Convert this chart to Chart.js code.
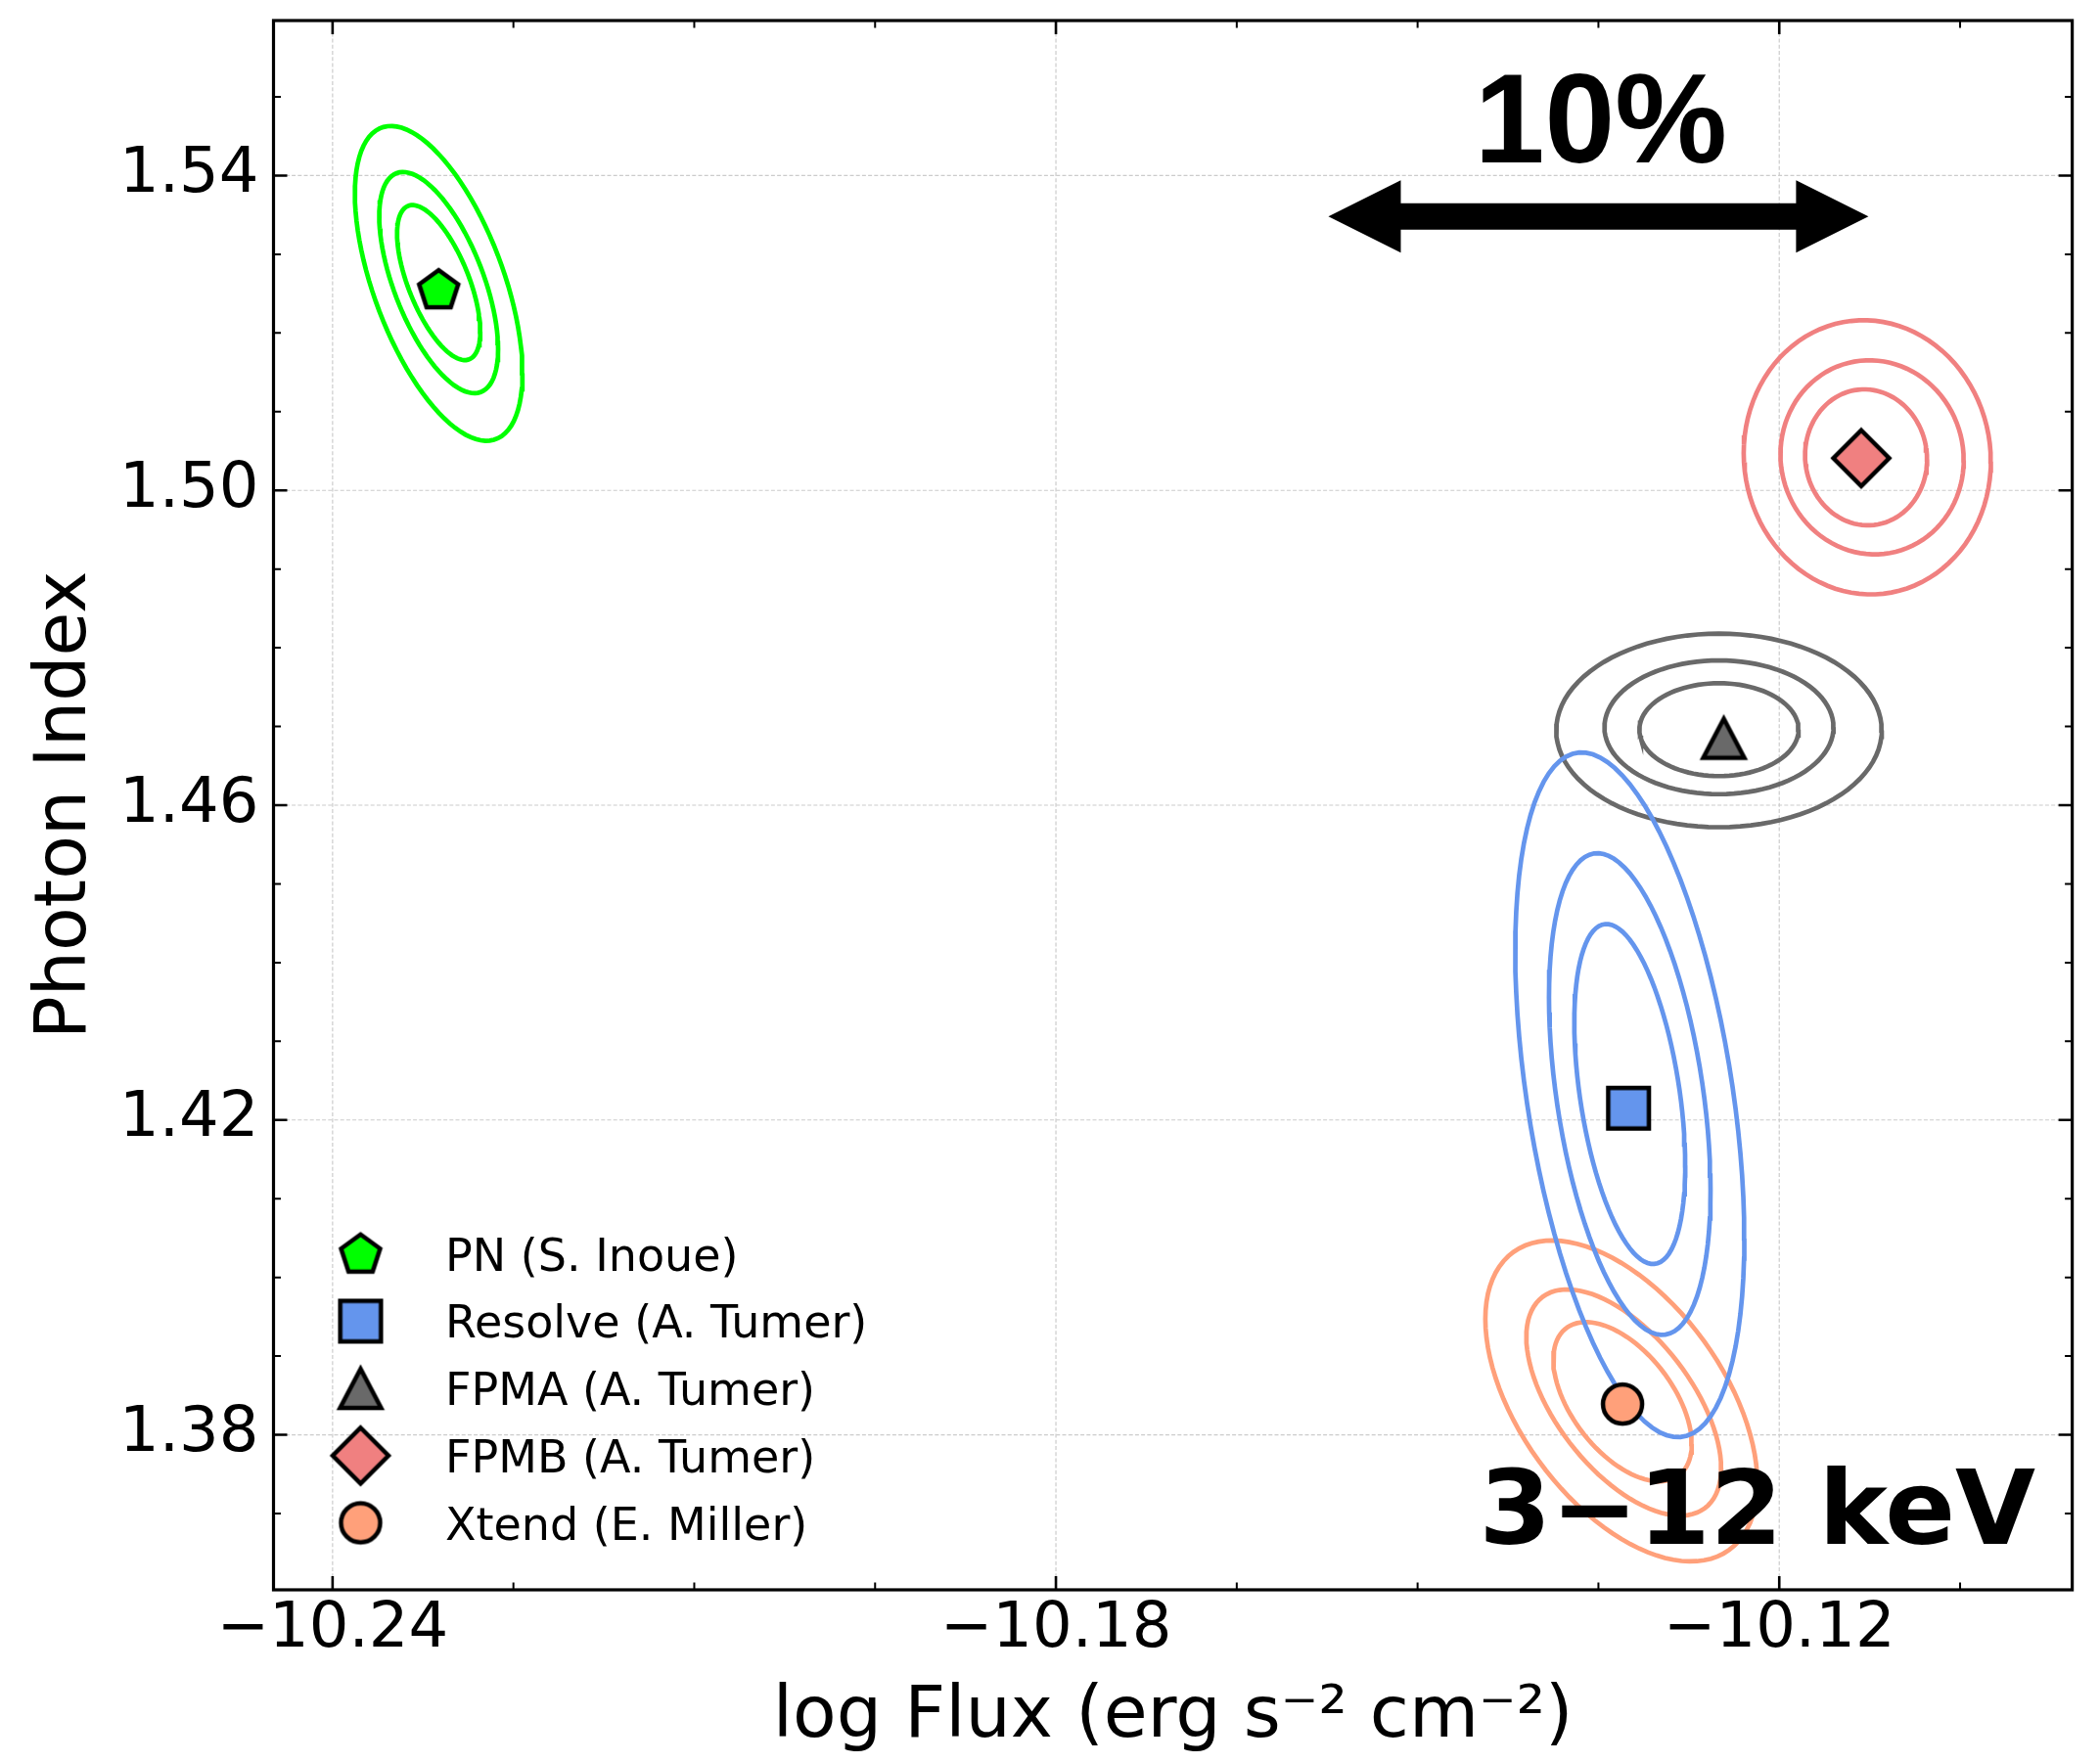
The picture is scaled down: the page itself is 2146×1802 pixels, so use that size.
<!DOCTYPE html>
<html>
<head>
<meta charset="utf-8">
<script src="https://cdn.jsdelivr.net/npm/chart.js@4.4.0/dist/chart.umd.min.js"></script>
<style>
    html, body { margin: 0; padding: 0; background: #fff; }
    canvas { display: block; }
</style>
</head>
<body>
<canvas id="fluxChart" width="2146" height="1802" style="width:2146px;height:1802px"></canvas>
<script>
// ------------ DATA -----------------------------------
const sourceNames = ["PN (S. Inoue)", "Resolve (A. Tumer)", "FPMA (A. Tumer)", "FPMB (A. Tumer)", "Xtend (E. Miller)"];
const sourceColors = ["#00ff00", "#6495ed", "#696969", "#f08080", "#ffa07a"];
const sourceShapes = ["pentagon", "square", "triangle", "diamond", "circle"];

// best-fit log flux and photon index
const bestFlux = [-10.2312, -10.1325, -10.1246, -10.1132, -10.1330];
const bestIndex = [1.5255, 1.4215, 1.4685, 1.5041, 1.3839];

// confidence contours, inner -> outer
// [centre flux, centre index, half-width in flux, half-height in index, correlation]
const pnContours = [
    [-10.2312, 1.5264, 0.00345, 0.00985, -0.63],
    [-10.2312, 1.5264, 0.00493, 0.01405, -0.60],
    [-10.2312, 1.5263, 0.00695, 0.02000, -0.57]
];
const resolveContours = [
    [-10.1324, 1.4233, 0.00460, 0.02160, -0.42],
    [-10.1324, 1.4233, 0.00670, 0.03060, -0.40],
    [-10.1324, 1.4232, 0.00950, 0.04350, -0.42]
];
const fpmaContours = [
    [-10.1250, 1.4696, 0.00660, 0.00590, 0.0],
    [-10.1250, 1.4699, 0.00950, 0.00850, 0.0],
    [-10.1250, 1.4695, 0.01350, 0.01230, 0.0]
];
const fpmbContours = [
    [-10.1128, 1.5042, 0.00506, 0.00864, -0.03],
    [-10.1123, 1.5042, 0.00760, 0.01233, -0.03],
    [-10.1127, 1.5042, 0.01025, 0.01742, -0.03]
];
const xtendContours = [
    [-10.1330, 1.3842, 0.00574, 0.01012, -0.53],
    [-10.1329, 1.3841, 0.00808, 0.01437, -0.58],
    [-10.1331, 1.3843, 0.01128, 0.02039, -0.51]
];
const allContours = [pnContours, resolveContours, fpmaContours, fpmbContours, xtendContours];

// axes
const xMin = -10.2449, xMax = -10.0957;
const yMin = 1.3603, yMax = 1.5597;
const xTickValues = [-10.24, -10.18, -10.12];
const xTickLabels = ["\u221210.24", "\u221210.18", "\u221210.12"];
const xMinorTicks = [-10.225, -10.21, -10.195, -10.165, -10.15, -10.135, -10.105];
const yTickValues = [1.38, 1.42, 1.46, 1.50, 1.54];
const yTickLabels = ["1.38", "1.42", "1.46", "1.50", "1.54"];
const yMinorTicks = [1.37, 1.39, 1.40, 1.41, 1.43, 1.44, 1.45, 1.47, 1.48, 1.49, 1.51, 1.52, 1.53, 1.55];

// "10%" double arrow (tip to tip) and its label
const arrowFlux = [-10.1574, -10.1126];
const arrowIndex = 1.5348;
const percentLabelFlux = -10.1348;
const percentLabelIndex = 1.5417;

const FONT = "'DejaVu Sans', sans-serif";

// ------------ HELPERS -------------
function contourPoints(c) {
    const pts = [];
    const n = 96;
    const s = Math.sqrt(1 - c[4] * c[4]);
    for (let k = 0; k <= n; k++) {
        const t = (k / n) * 2 * Math.PI;
        pts.push({
            x: c[0] + c[2] * Math.cos(t),
            y: c[1] + c[3] * (c[4] * Math.cos(t) + s * Math.sin(t))
        });
    }
    return pts;
}

// matplotlib-like markers drawn once on small canvases
function makeMarker(shape, fill) {
    const size = 76;
    const c = document.createElement("canvas");
    c.width = size;
    c.height = size;
    const g = c.getContext("2d");
    const m = size / 2;
    g.beginPath();
    if (shape === "pentagon") {
        const r = 21;
        for (let i = 0; i < 5; i++) {
            const a = -Math.PI / 2 + i * 2 * Math.PI / 5;
            g.lineTo(m + r * Math.cos(a), m + 1 + r * Math.sin(a));
        }
    } else if (shape === "square") {
        g.rect(m - 20.8, m - 20.8, 41.6, 41.6);
    } else if (shape === "triangle") {
        g.moveTo(m, m - 20);
        g.lineTo(m + 21, m + 20);
        g.lineTo(m - 21, m + 20);
    } else if (shape === "diamond") {
        const r = 28.5;
        g.moveTo(m, m - r);
        g.lineTo(m + r, m);
        g.lineTo(m, m + r);
        g.lineTo(m - r, m);
    } else {
        g.arc(m, m, 20, 0, 2 * Math.PI);
    }
    g.closePath();
    g.fillStyle = fill;
    g.fill();
    g.lineWidth = 4.5;
    g.lineJoin = "miter";
    g.strokeStyle = "#000";
    g.stroke();
    return c;
}

const markers = sourceShapes.map((s, i) => makeMarker(s, sourceColors[i]));

// ------------ DATASETS -------------
const datasets = [];
sourceNames.forEach((name, i) => {
    datasets.push({
        label: name,
        data: [{ x: bestFlux[i], y: bestIndex[i] }],
        pointStyle: markers[i],
        pointRadius: 20,
        showLine: false,
        order: 0
    });
});
allContours.forEach((levels, i) => {
    levels.forEach(c => {
        datasets.push({
            label: sourceNames[i] + " contour",
            data: contourPoints(c),
            showLine: true,
            borderColor: sourceColors[i],
            borderWidth: 4.7,
            pointRadius: 0,
            tension: 0,
            fill: false,
            order: 1
        });
    });
});

// ------------ FRAME, TICKS, GRID, LEGEND, ANNOTATIONS -------------
const decorPlugin = {
    id: "decor",
    beforeDatasetsDraw(chart) {
        const { ctx, chartArea: a, scales } = chart;
        ctx.save();
        ctx.strokeStyle = "#cccccc";
        ctx.lineWidth = 1.2;
        ctx.setLineDash([4, 2.2]);
        xTickValues.forEach(v => {
            const px = scales.x.getPixelForValue(v);
            ctx.beginPath();
            ctx.moveTo(px, a.top);
            ctx.lineTo(px, a.bottom);
            ctx.stroke();
        });
        yTickValues.forEach(v => {
            const py = scales.y.getPixelForValue(v);
            ctx.beginPath();
            ctx.moveTo(a.left, py);
            ctx.lineTo(a.right, py);
            ctx.stroke();
        });
        ctx.restore();
    },
    afterDatasetsDraw(chart) {
        const { ctx, chartArea: a, scales } = chart;
        ctx.save();

        // double arrow
        const xl = scales.x.getPixelForValue(arrowFlux[0]);
        const xr = scales.x.getPixelForValue(arrowFlux[1]);
        const ya = scales.y.getPixelForValue(arrowIndex);
        const headLen = 74, headHalf = 37, shaftHalf = 13.5;
        ctx.fillStyle = "#000";
        ctx.beginPath();
        ctx.moveTo(xl, ya);
        ctx.lineTo(xl + headLen, ya - headHalf);
        ctx.lineTo(xl + headLen, ya - shaftHalf);
        ctx.lineTo(xr - headLen, ya - shaftHalf);
        ctx.lineTo(xr - headLen, ya - headHalf);
        ctx.lineTo(xr, ya);
        ctx.lineTo(xr - headLen, ya + headHalf);
        ctx.lineTo(xr - headLen, ya + shaftHalf);
        ctx.lineTo(xl + headLen, ya + shaftHalf);
        ctx.lineTo(xl + headLen, ya + headHalf);
        ctx.closePath();
        ctx.fill();

        ctx.font = "bold 129px 'Liberation Sans', Arial, sans-serif";
        ctx.textAlign = "center";
        ctx.textBaseline = "alphabetic";
        ctx.fillText("10%", scales.x.getPixelForValue(percentLabelFlux), scales.y.getPixelForValue(percentLabelIndex));

        // energy band label
        ctx.font = "bold 106px " + FONT;
        ctx.textAlign = "right";
        ctx.fillText("3\u221212 keV", a.left + 0.9796 * (a.right - a.left), a.top + 0.9704 * (a.bottom - a.top));

        // legend
        const lx = a.left + 89;
        const ly0 = a.bottom - 343.3;
        const rowGap = 68.7;
        ctx.font = "46px " + FONT;
        ctx.textAlign = "left";
        sourceNames.forEach((name, i) => {
            const yy = ly0 + i * rowGap;
            const mk = markers[i];
            ctx.drawImage(mk, lx - mk.width / 2, yy - mk.height / 2);
            ctx.fillText(name, a.left + 175.5, yy + 17);
        });
        ctx.restore();
    },
    afterDraw(chart) {
        const { ctx, chartArea: a, scales } = chart;
        ctx.save();
        ctx.strokeStyle = "#000";
        // ticks pointing inwards on all four sides
        const tick = (vals, len, w) => {
            ctx.lineWidth = w;
            vals.x.forEach(v => {
                const px = scales.x.getPixelForValue(v);
                ctx.beginPath();
                ctx.moveTo(px, a.bottom); ctx.lineTo(px, a.bottom - len);
                ctx.moveTo(px, a.top); ctx.lineTo(px, a.top + len);
                ctx.stroke();
            });
            vals.y.forEach(v => {
                const py = scales.y.getPixelForValue(v);
                ctx.beginPath();
                ctx.moveTo(a.left, py); ctx.lineTo(a.left + len, py);
                ctx.moveTo(a.right, py); ctx.lineTo(a.right - len, py);
                ctx.stroke();
            });
        };
        tick({ x: xTickValues, y: yTickValues }, 14, 2.6);
        tick({ x: xMinorTicks, y: yMinorTicks }, 7.5, 2);
        ctx.lineWidth = 3.2;
        ctx.strokeRect(a.left, a.top, a.right - a.left, a.bottom - a.top);
        ctx.restore();
    }
};

// ------------ CHART -------------
const ctx = document.getElementById("fluxChart");
const fluxChart = new Chart(ctx, {
    type: "scatter",
    data: { datasets: datasets },
    options: {
        responsive: false,
        animation: false,
        devicePixelRatio: 1,
        layout: { padding: { left: 0, top: 13, right: 28.4, bottom: 0 } },
        plugins: {
            legend: { display: false },
            tooltip: { enabled: false }
        },
        scales: {
            x: {
                type: "linear",
                min: xMin,
                max: xMax,
                afterFit(scale) {
                    scale.height = 177;
                    scale.paddingLeft = 0;
                    scale.paddingRight = 0;
                },
                afterBuildTicks(scale) { scale.ticks = xTickValues.map(v => ({ value: v })); },
                ticks: {
                    callback: (v, i) => xTickLabels[i],
                    font: { family: FONT, size: 64 },
                    color: "#000",
                    padding: 2.5,
                    maxRotation: 0,
                    autoSkip: false
                },
                grid: { display: false, drawTicks: false },
                border: { display: false },
                title: {
                    display: true,
                    text: "log Flux (erg s\u207B\u00B2 cm\u207B\u00B2)",
                    font: { family: FONT, size: 73 },
                    color: "#000",
                    padding: { top: 0, bottom: 2 }
                }
            },
            y: {
                type: "linear",
                min: yMin,
                max: yMax,
                afterFit(scale) {
                    scale.width = 279.5;
                    scale.paddingTop = 0;
                    scale.paddingBottom = 0;
                },
                afterBuildTicks(scale) { scale.ticks = yTickValues.map(v => ({ value: v })); },
                ticks: {
                    callback: (v, i) => yTickLabels[i],
                    font: { family: FONT, size: 64 },
                    color: "#000",
                    padding: 15,
                    autoSkip: false
                },
                grid: { display: false, drawTicks: false },
                border: { display: false },
                title: {
                    display: true,
                    text: "Photon Index",
                    font: { family: FONT, size: 73 },
                    color: "#000",
                    padding: { top: 24, bottom: 0 }
                }
            }
        }
    },
    plugins: [decorPlugin]
});
</script>
</body>
</html>
